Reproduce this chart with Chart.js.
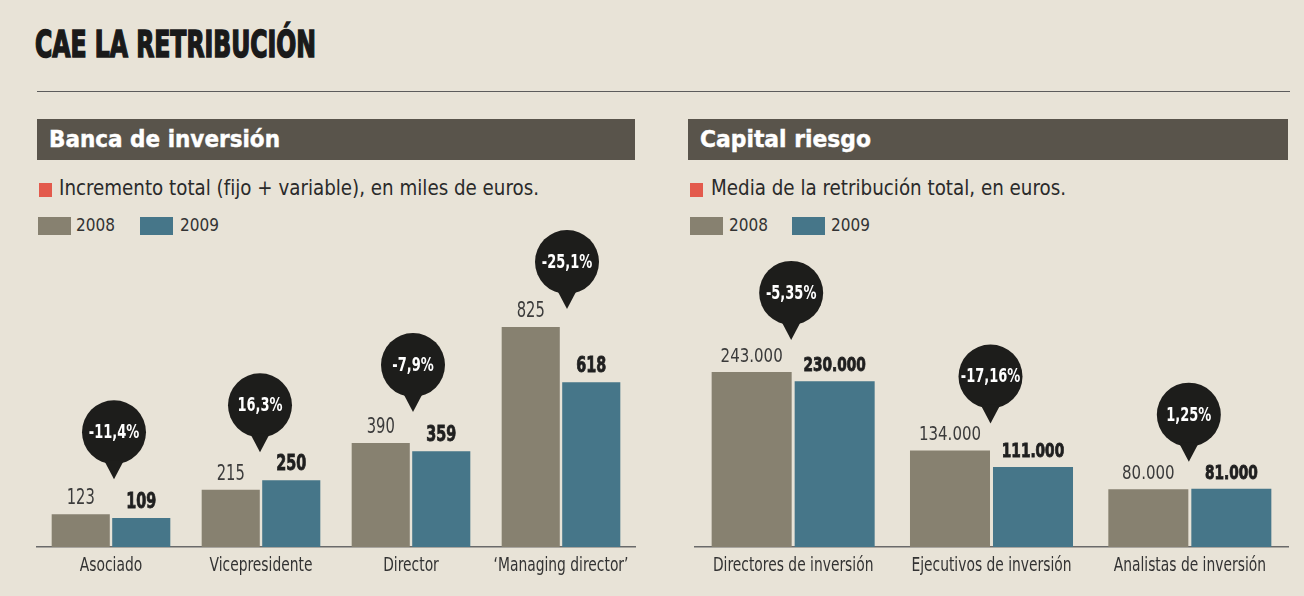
<!DOCTYPE html>
<html lang="es">
<head>
<meta charset="utf-8">
<script src="https://cdn.jsdelivr.net/npm/chart.js@4.4.1/dist/chart.umd.min.js"></script>
<style>
  html, body { margin: 0; padding: 0; }
  body {
    width: 1304px; height: 596px; position: relative; overflow: hidden;
    background: #e8e3d7;
    font-family: "Liberation Sans Narrow", "DejaVu Sans Condensed", sans-serif;
    color: #2f2f2f;
  }
  .abs { position: absolute; white-space: nowrap; }
  .fit { display: inline-block; transform-origin: 0 50%; }
  #title { left: 35px; top: 22px; font-size: 38px; font-weight: bold; color: #1a1a1a; -webkit-text-stroke: 1.6px #1a1a1a; }
  #rule { left: 37px; top: 91px; width: 1253px; height: 1px; background: #5c5c5c; }
  .head { top: 119px; height: 41px; background: #59544b; }
  .head span { position: absolute; left: 12px; top: 7px; color: #fff; font-weight: bold; font-size: 23px; -webkit-text-stroke: 0.4px #fff; }
  .mark { top: 183px; width: 13px; height: 14px; background: #e35a4c; }
  .sub { top: 176px; font-size: 21px; color: #2a2a2a; }
  .sw { top: 217px; width: 33px; height: 18px; }
  .lg { top: 215px; font-size: 17px; color: #333; }
  .box { position: absolute; top: 215px; height: 375px; }
</style>
</head>
<body>
<div id="title" class="abs"><span class="fit" data-w="281">CAE LA RETRIBUCIÓN</span></div>
<div id="rule" class="abs"></div>

<div class="abs head" style="left:37px;width:598px"><span class="fit" data-w="231">Banca de inversión</span></div>
<div class="abs mark" style="left:39px"></div>
<div class="abs sub" style="left:59px"><span class="fit" data-w="480">Incremento total (fijo + variable), en miles de euros.</span></div>
<div class="abs sw" style="left:38px;background:#878170"></div>
<div class="abs lg" style="left:76px">2008</div>
<div class="abs sw" style="left:140px;background:#467689"></div>
<div class="abs lg" style="left:180px">2009</div>
<div class="box" style="left:36px;width:600px"><canvas id="banca"></canvas></div>

<div class="abs head" style="left:688px;width:600px"><span class="fit" data-w="171">Capital riesgo</span></div>
<div class="abs mark" style="left:690px"></div>
<div class="abs sub" style="left:711px"><span class="fit" data-w="355">Media de la retribución total, en euros.</span></div>
<div class="abs sw" style="left:690px;background:#878170"></div>
<div class="abs lg" style="left:729px">2008</div>
<div class="abs sw" style="left:792px;background:#467689"></div>
<div class="abs lg" style="left:831px">2009</div>
<div class="box" style="left:694px;width:595px"><canvas id="capital"></canvas></div>

<script>
// Banca de inversión: miles de euros
const bancaCats = ["Asociado", "Vicepresidente", "Director", "\u2018Managing director\u2019"];
const banca2008 = [123, 215, 390, 825];
const banca2009 = [109, 250, 359, 618];
const bancaChange = [-11.4, 16.3, -7.9, -25.1];

// Capital riesgo: euros
const capitalCats = ["Directores de inversión", "Ejecutivos de inversión", "Analistas de inversión"];
const capital2008 = [243000, 134000, 80000];
const capital2009 = [230000, 111000, 81000];
const capitalChange = [-5.35, -17.16, 1.25];

const FONT = '"Liberation Sans Narrow", "DejaVu Sans Condensed", sans-serif';
const GREY = "#878170";
const BLUE = "#467689";

// squeeze text spans to the width they should take
document.querySelectorAll(".fit").forEach(el => {
  const w = el.getBoundingClientRect().width;
  el.style.transform = "scaleX(" + (+el.dataset.w / w) + ")";
});

const pct = v => String(v).replace(".", ",") + "%";
const thousands = v => String(v).replace(/\B(?=(\d{3})+(?!\d))/g, ".");

// canvas text, narrowed horizontally around its anchor; heavy adds an outline
function narrowText(ctx, text, x, y, sx, heavy) {
  ctx.save();
  ctx.translate(x, y);
  ctx.scale(sx, 1);
  if (heavy) {
    ctx.lineWidth = heavy;
    ctx.strokeStyle = ctx.fillStyle;
    ctx.strokeText(text, 0, 0);
  }
  ctx.fillText(text, 0, 0);
  ctx.restore();
}

function bubble(ctx, cx, tipY, text) {
  const r = 32;
  const cy = tipY - 47;
  ctx.fillStyle = "#1d1d1b";
  ctx.beginPath();
  ctx.arc(cx, cy, r, 0, Math.PI * 2);
  ctx.fill();
  ctx.beginPath();
  ctx.moveTo(cx - 10, cy + r - 4);
  ctx.lineTo(cx + 10, cy + r - 4);
  ctx.lineTo(cx, tipY);
  ctx.closePath();
  ctx.fill();
  ctx.fillStyle = "#fff";
  ctx.font = "bold 19px " + FONT;
  ctx.textAlign = "center";
  ctx.textBaseline = "middle";
  narrowText(ctx, text, cx, cy + 1, 0.76);
}

// numbers over the bars, category names and the change bubbles
const annotations = {
  id: "annotations",
  afterDatasetsDraw(chart, args, o) {
    const ctx = chart.ctx;
    const m0 = chart.getDatasetMeta(0), m1 = chart.getDatasetMeta(1);
    const xs = chart.scales.x;
    ctx.save();
    ctx.textAlign = "center";
    ctx.textBaseline = "alphabetic";

    ctx.font = "20px " + FONT;
    ctx.fillStyle = "#333";
    chart.data.labels.forEach((lab, i) => {
      narrowText(ctx, lab, xs.getPixelForTick(i), chart.chartArea.bottom + 24, 0.77);
    });

    [m0, m1].forEach((meta, di) => {
      ctx.font = (di ? "bold " : "") + o.size + "px " + FONT;
      ctx.fillStyle = di ? "#1f1f1f" : "#3b3b3b";
      meta.data.forEach((bar, i) => {
        narrowText(ctx, o.format(chart.data.datasets[di].data[i]), bar.x, bar.y - o.gap, o.squeeze[di], di ? 0.8 : 0);
      });
    });

    o.changes.forEach((v, i) => {
      const a = m0.data[i], b = m1.data[i];
      const cx = (a.x + b.x) / 2 + o.shift[i];
      bubble(ctx, cx, Math.min(a.y, b.y) - o.lift[i], pct(v));
    });
    ctx.restore();
  }
};

function drawPanel(id, cats, d2008, d2009, max, catPct, barPct, ann) {
  new Chart(document.getElementById(id), {
    type: "bar",
    data: {
      labels: cats,
      datasets: [
        { label: "2008", data: d2008, backgroundColor: GREY, categoryPercentage: catPct, barPercentage: barPct },
        { label: "2009", data: d2009, backgroundColor: BLUE, categoryPercentage: catPct, barPercentage: barPct }
      ]
    },
    options: {
      responsive: true,
      maintainAspectRatio: false,
      animation: false,
      devicePixelRatio: 1,
      layout: { padding: { top: 20, left: 0, right: 0, bottom: 43 } },
      plugins: { legend: { display: false }, tooltip: { enabled: false }, annotations: ann },
      scales: {
        x: {
          grid: { display: false, drawTicks: false },
          border: { display: true, color: "#6a6a6a", width: 1.5 },
          ticks: { display: false }
        },
        y: { display: false, min: 0, max: max }
      }
    },
    plugins: [annotations]
  });
}

drawPanel("banca", bancaCats, banca2008, banca2009, 1170, 0.807, 0.96, {
  size: 21, gap: 10, squeeze: [0.78, 0.76], format: String, changes: bancaChange,
  lift: [35, 28, 31, 18], shift: [3, -1, 2, 6]
});
drawPanel("capital", capitalCats, capital2008, capital2009, 433000, 0.837, 0.964, {
  size: 19, gap: 10, squeeze: [0.88, 0.8], format: thousands, changes: capitalChange,
  lift: [32, 27, 27], shift: [-2, -1, -1]
});
</script>
</body>
</html>
